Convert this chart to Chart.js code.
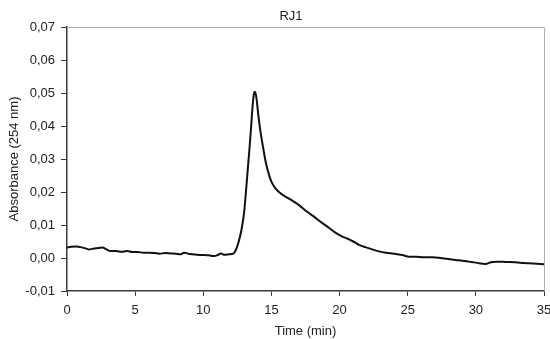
<!DOCTYPE html>
<html>
<head>
<meta charset="utf-8">
<script src="https://cdn.jsdelivr.net/npm/chart.js@4/dist/chart.umd.min.js"></script>
<style>
    html, body { margin: 0; padding: 0; background: #fff; }
    #wrap { width: 550px; height: 339px; }
</style>
</head>
<body>
<div id="wrap"><canvas id="lineChart" width="550" height="339"></canvas></div>
<script>
    "use strict";

    var chartTitle = "RJ1";
    var xTitle = "Time (min)";
    var yTitle = "Absorbance (254 nm)";

    // retention time (min)
    var times = [0, 0.3, 0.7, 1.0, 1.3, 1.6, 2.0, 2.3, 2.6, 2.9, 3.2, 3.6, 4.0, 4.4, 4.8,
        5.2, 5.6, 6.0, 6.4, 6.8, 7.2, 7.6, 8.0, 8.3, 8.6, 9.0, 9.5, 10.0, 10.4, 10.8,
        11.1, 11.3, 11.5, 11.9, 12.2, 12.4, 12.6, 12.8, 13.0, 13.2, 13.4, 13.5,
        13.58, 13.65, 13.71, 13.77, 13.83, 13.9, 14.02, 14.2, 14.39, 14.6, 14.87, 15.05,
        15.3, 15.66, 16.03, 16.64, 17.0, 17.62, 18.1, 18.6, 19.1, 19.58, 20.2, 20.56, 21.0,
        21.42, 21.9, 22.4, 22.9, 23.4, 24.0, 24.6, 25.1, 25.6, 26.2, 26.8, 27.4, 28.0,
        28.5, 29.0, 29.5, 30.0, 30.7, 31.1, 31.5, 32.2, 32.9, 33.5, 34.2, 35.0];

    // absorbance at 254 nm
    var absorbance = [0.0032, 0.0034, 0.0035, 0.0033, 0.0030, 0.0026, 0.0029, 0.0030, 0.0032, 0.0026,
        0.0021, 0.0021, 0.0019, 0.0021, 0.0018, 0.0018, 0.0016, 0.0016, 0.0015, 0.0013,
        0.0015, 0.0014, 0.0013, 0.0011, 0.0016, 0.0012, 0.0010, 0.0009, 0.0008, 0.0006,
        0.0010, 0.0014, 0.0010, 0.0011, 0.0013, 0.0025, 0.0050, 0.0085, 0.0140, 0.0236,
        0.0337, 0.0392, 0.0440, 0.0475, 0.0497, 0.0504, 0.0500, 0.0485, 0.0440,
        0.0382, 0.0335, 0.0287, 0.0246, 0.0227, 0.0211, 0.0196, 0.0186, 0.0171, 0.0161,
        0.0140, 0.0126, 0.0110, 0.0095, 0.0080, 0.0065, 0.0059, 0.0050, 0.0040, 0.0033,
        0.0026, 0.0020, 0.0016, 0.0013, 0.0009, 0.0004, 0.0004, 0.0002, 0.0002, 0.0000,
        -0.0003, -0.0006, -0.0008, -0.0011, -0.0014, -0.0018, -0.0013, -0.0011, -0.0012,
        -0.0013, -0.0015, -0.0017, -0.0019];

    var xMin = 0, xMax = 35, xStep = 5;
    var yMin = -0.01, yMax = 0.07, yStep = 0.01;

    var points = times.map(function (t, i) {
        return { x: t, y: absorbance[i] };
    });

    var fontFamily = "'Liberation Sans', Arial, sans-serif";
    var axisColor = "#3a3a3a";
    var textColor = "#222";

    // light frame on top and right of the plot area, plus the chart title
    var frame = {
        id: "frame",
        afterDatasetsDraw: function (chart) {
            var a = chart.chartArea, c = chart.ctx;
            c.save();
            c.strokeStyle = "#aab2ba";
            c.lineWidth = 1;
            c.beginPath();
            c.moveTo(a.left, a.top + 0.5);
            c.lineTo(a.right + 0.5, a.top + 0.5);
            c.lineTo(a.right + 0.5, a.bottom);
            c.stroke();
            c.fillStyle = textColor;
            c.font = "13px " + fontFamily;
            c.textAlign = "center";
            c.textBaseline = "middle";
            c.fillText(chartTitle, 291, 16);
            c.restore();
        }
    };

    var ctx = document.getElementById("lineChart").getContext("2d");
    var lineChart = new Chart(ctx, {
        type: "line",
        data: {
            datasets: [{
                label: chartTitle,
                data: points,
                borderColor: "#111",
                borderWidth: 2,
                pointRadius: 0,
                cubicInterpolationMode: "monotone",
                fill: false
            }]
        },
        options: {
            responsive: false,
            animation: false,
            layout: { padding: { left: 0, right: 6, top: 27, bottom: 0 } },
            plugins: {
                legend: { display: false },
                tooltip: { enabled: false },
                title: { display: false }
            },
            scales: {
                x: {
                    type: "linear",
                    min: xMin,
                    max: xMax,
                    afterFit: function (s) {
                        s.height = 48;
                        s.paddingLeft = 0;
                        s.paddingRight = 0;
                    },
                    ticks: {
                        stepSize: xStep,
                        color: textColor,
                        padding: 7,
                        maxRotation: 0,
                        font: { family: fontFamily, size: 13 }
                    },
                    grid: { drawOnChartArea: false, drawTicks: true, tickLength: 5, color: axisColor },
                    border: { display: true, color: axisColor, width: 1.5 },
                    title: {
                        display: true,
                        text: xTitle,
                        color: textColor,
                        font: { family: fontFamily, size: 13 },
                        padding: { top: 0, bottom: 0 }
                    }
                },
                y: {
                    min: yMin,
                    max: yMax,
                    afterFit: function (s) { s.width = 67; },
                    ticks: {
                        stepSize: yStep,
                        color: textColor,
                        padding: 6,
                        font: { family: fontFamily, size: 13 },
                        callback: function (v) {
                            return v.toFixed(2).replace(".", ",");
                        }
                    },
                    grid: { drawOnChartArea: false, drawTicks: true, tickLength: 6, color: axisColor },
                    border: { display: true, color: axisColor, width: 1.5 },
                    title: {
                        display: true,
                        text: yTitle,
                        color: textColor,
                        font: { family: fontFamily, size: 13 },
                        padding: { top: 7, bottom: 0 }
                    }
                }
            }
        },
        plugins: [frame]
    });
</script>
</body>
</html>
